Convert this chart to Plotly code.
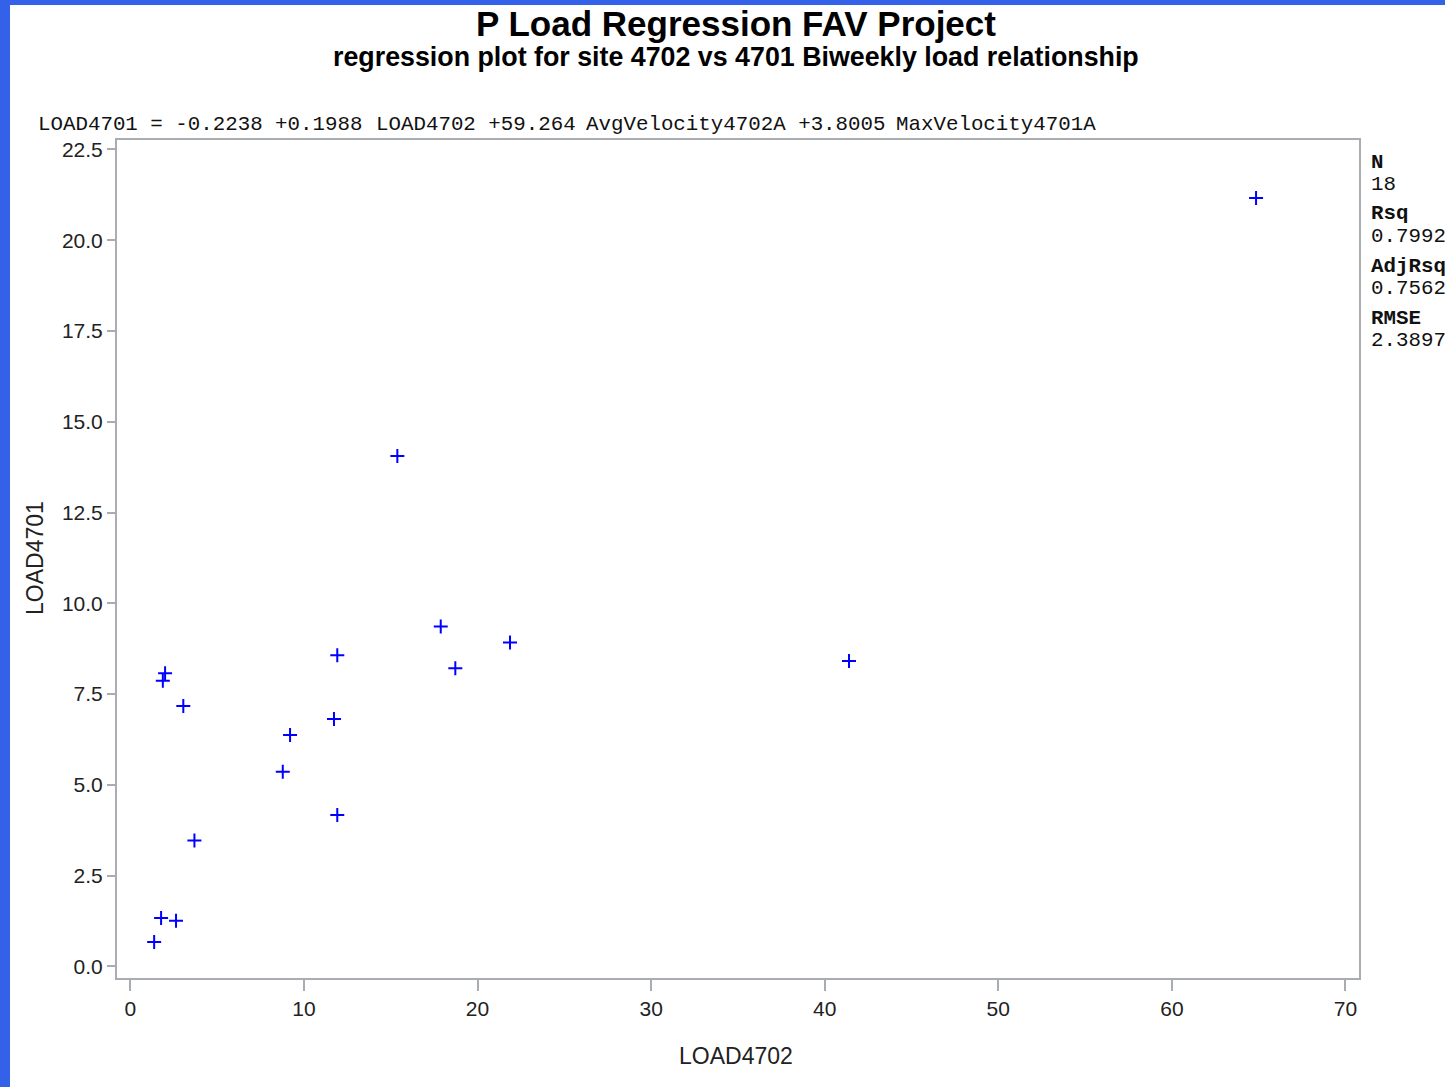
import plotly.graph_objects as go

# ---- data ----
load4702 = [64.85, 15.38, 17.88, 21.87, 18.72, 41.40, 11.92, 2.00, 1.87, 3.05,
            11.73, 9.20, 8.78, 11.92, 3.69, 1.77, 2.63, 1.37]
load4701 = [21.16, 14.06, 9.36, 8.92, 8.21, 8.41, 8.57, 8.07, 7.87, 7.17,
            6.81, 6.37, 5.36, 4.17, 3.47, 1.33, 1.26, 0.67]

x_ticks = [0, 10, 20, 30, 40, 50, 60, 70]
y_ticks = [0.0, 2.5, 5.0, 7.5, 10.0, 12.5, 15.0, 17.5, 20.0, 22.5]
y_tick_text = ["0.0", "2.5", "5.0", "7.5", "10.0", "12.5", "15.0", "17.5", "20.0", "22.5"]

title = "P Load Regression FAV Project"
subtitle = "regression plot for site 4702 vs 4701 Biweekly load relationship"
equation_parts = ["LOAD4701 = -0.2238 +0.1988", "LOAD4702 +59.264",
                  "AvgVelocity4702A +3.8005", "MaxVelocity4701A"]
equation_px = [38, 376, 586, 896]
stat_labels = ["N", "Rsq", "AdjRsq", "RMSE"]
stat_values = ["18", "0.7992", "0.7562", "2.3897"]

# ---- layout geometry (pixels) ----
W, H = 1445, 1087
L, R, T, B = 117, 1445 - 1359, 140, 1087 - 978
PW, PH = W - L - R, H - T - B


def px(x):
    return (x - L) / PW


def py(y):
    return (H - B - y) / PH


fig = go.Figure()
fig.add_trace(go.Scatter(
    x=load4702, y=load4701, mode="markers",
    marker=dict(symbol="cross-thin", size=10, color="#0000FF",
                line=dict(color="#0000FF", width=2)),
    showlegend=False, hoverinfo="x+y"))

axis_common = dict(
    showgrid=False, zeroline=False, showline=True, mirror=True,
    linecolor="#A9ADB1", linewidth=2, ticks="outside", tickcolor="#A9ADB1",
    tickwidth=2, tickfont=dict(family="Liberation Sans, Arial", size=21, color="#222222"),
)

fig.update_layout(
    width=W, height=H,
    margin=dict(l=L, r=R, t=T, b=B, pad=0),
    paper_bgcolor="white", plot_bgcolor="white",
    xaxis=dict(range=[-0.77, 70.78], tickvals=x_ticks, ticklen=11, **axis_common),
    yaxis=dict(range=[-0.32, 22.76], tickvals=y_ticks, ticktext=y_tick_text,
               ticklen=8, **axis_common),
)

# blue frame on the left and top
blue = "#3361E9"
fig.add_shape(type="rect", xref="paper", yref="paper", x0=px(-20), x1=px(10),
              y0=py(H + 20), y1=py(-20), fillcolor=blue, line_width=0, layer="above")
fig.add_shape(type="rect", xref="paper", yref="paper", x0=px(-20), x1=px(W + 20),
              y0=py(5), y1=py(-20), fillcolor=blue, line_width=0, layer="above")

ann = []
ann.append(dict(text=f"<b>{title}</b>", x=px(736), y=py(23), xref="paper", yref="paper",
                xanchor="center", yanchor="middle", showarrow=False,
                font=dict(family="Liberation Sans, Arial", size=35, color="black")))
ann.append(dict(text=f"<b>{subtitle}</b>", x=px(735.5), y=py(57), xref="paper", yref="paper",
                xanchor="center", yanchor="middle", showarrow=False,
                font=dict(family="Liberation Sans, Arial", size=26.8, color="black")))
for part, xp in zip(equation_parts, equation_px):
    ann.append(dict(text=part, x=px(xp - 2), y=py(124), xref="paper", yref="paper",
                    xanchor="left", yanchor="middle", showarrow=False,
                    font=dict(family="Liberation Mono, monospace", size=20.8, color="#111111")))
stat_y = [(162, 184), (214, 236), (266, 288), (318, 340)]
for lab, val, (yl, yv) in zip(stat_labels, stat_values, stat_y):
    ann.append(dict(text=f"<b>{lab}</b>", x=px(1369), y=py(yl), xref="paper", yref="paper",
                    xanchor="left", yanchor="middle", showarrow=False,
                    font=dict(family="Liberation Mono, monospace", size=20.8, color="#111111")))
    ann.append(dict(text=val, x=px(1369), y=py(yv), xref="paper", yref="paper",
                    xanchor="left", yanchor="middle", showarrow=False,
                    font=dict(family="Liberation Mono, monospace", size=20.8, color="#111111")))
ann.append(dict(text="LOAD4702", x=px(736), y=py(1056), xref="paper", yref="paper",
                xanchor="center", yanchor="middle", showarrow=False,
                font=dict(family="Liberation Sans, Arial", size=23, color="#222222")))
ann.append(dict(text="LOAD4701", x=px(35), y=py(558), xref="paper", yref="paper",
                xanchor="center", yanchor="middle", showarrow=False, textangle=-90,
                font=dict(family="Liberation Sans, Arial", size=23, color="#222222")))
fig.update_layout(annotations=ann)

fig.write_html("out.html")
